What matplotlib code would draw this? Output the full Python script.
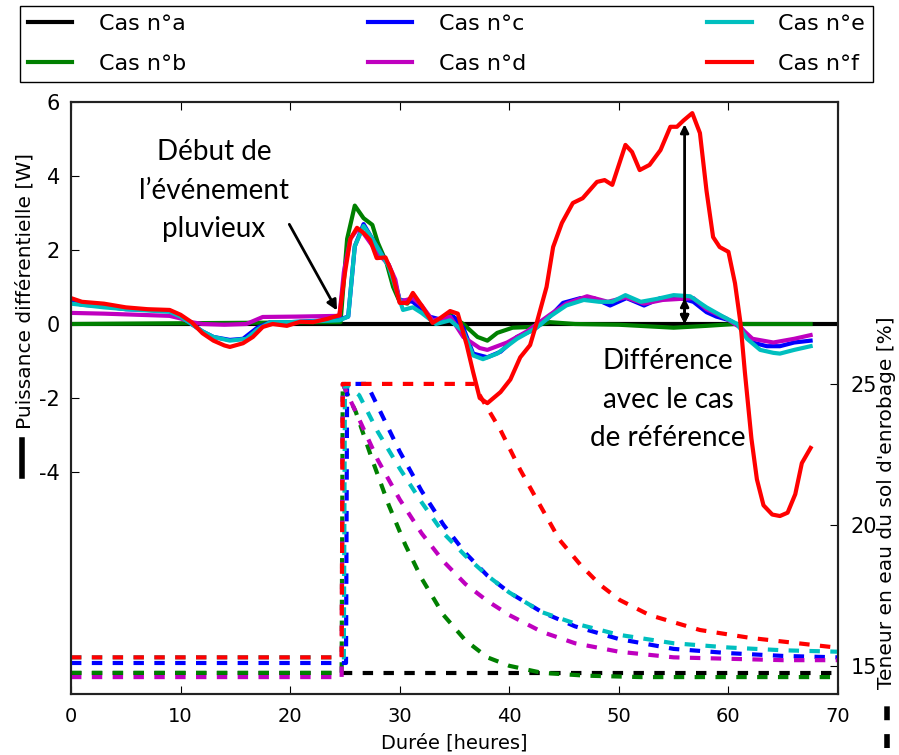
import matplotlib.pyplot as plt
from matplotlib.lines import Line2D

# --- left axis: differential power [W] (solid lines) ---
a_x = [0, 70]
a_y = [0, 0]

b_x = [0, 24.6, 25.2, 25.9, 26.7, 27.5, 28.0, 28.8, 29.4, 30.0, 30.7, 31.2, 32.0, 33.0, 33.7, 34.6,
       35.8, 37.1, 38.0, 38.9, 40.3, 41.9, 43.7, 46, 50, 55, 58, 60.6, 67.5]
b_y = [0, 0.05, 2.3, 3.2, 2.86, 2.68, 2.2, 1.65, 1.0, 0.6, 0.55, 0.8, 0.45, 0.05, 0.1, 0.25,
       0.0, -0.35, -0.45, -0.24, -0.1, -0.08, 0.05, 0.0, -0.02, -0.1, -0.05, 0.0, 0.0]

c_x = [0, 1, 3, 5, 7, 9, 10, 11, 12, 13, 14.5, 15.7, 17, 18.2, 20, 22, 24.5, 25.3, 25.9, 26.7,
       27.3, 28.2, 29.0, 29.6, 30.0, 31.2, 32.7, 34.0, 34.9, 35.8, 36.7, 38.0, 39.2, 40.7, 42.2,
       43.7, 44.9, 46.5, 47.7, 49.2, 50.7, 52.3, 53.8, 55.6, 56.8, 58.0, 58.9, 60.1, 61.1, 62.2,
       63.5, 64.7, 66, 67.5]
c_y = [0.6, 0.52, 0.48, 0.4, 0.38, 0.35, 0.2, 0.0, -0.2, -0.35, -0.43, -0.4, -0.1, 0.05, 0.05,
       0.08, 0.12, 0.2, 2.1, 2.7, 2.4, 1.95, 1.6, 1.1, 0.65, 0.6, 0.2, 0.1, 0.2, -0.1, -0.8, -0.9,
       -0.75, -0.35, -0.16, 0.2, 0.57, 0.7, 0.7, 0.5, 0.7, 0.5, 0.7, 0.7, 0.6, 0.32, 0.2, 0.1,
       -0.08, -0.5, -0.6, -0.6, -0.5, -0.45]

d_x = [0, 3, 6, 9, 10, 11, 12, 14, 16, 17.5, 20.5, 24.5, 24.9, 25.5, 26.1, 26.7, 27.3, 28.2,
       29.0, 29.6, 30.0, 31.2, 32.0, 33.0, 34.6, 35.8, 37.3, 38.0, 39.8, 41.6, 43.7, 45.2, 47.1,
       49, 50.6, 52.3, 54, 56.8, 58.0, 59.8, 61.1, 62.2, 64.1, 66, 67.5]
d_y = [0.3, 0.28, 0.25, 0.22, 0.15, 0.05, 0.0, -0.02, 0.0, 0.19, 0.2, 0.22, 1.4, 2.3, 2.55,
       2.45, 2.2, 1.85, 1.6, 1.2, 0.6, 0.7, 0.5, 0.1, 0.2, -0.35, -0.65, -0.7, -0.5, -0.2, 0.25,
       0.55, 0.75, 0.6, 0.72, 0.55, 0.65, 0.7, 0.4, 0.15, -0.1, -0.4, -0.5, -0.4, -0.3]

e_x = [0, 3, 5, 9, 10, 11, 12, 13, 14.5, 16, 17, 18.2, 20, 24.5, 25.3, 25.9, 26.7, 27.3, 28.2,
       29.0, 29.6, 30.3, 31.2, 32.0, 33.3, 34.6, 35.8, 36.7, 37.6, 38.9, 40.7, 42.5, 43.7, 45.2,
       46.8, 48.2, 49.4, 50.6, 52.0, 53.5, 55.0, 56.5, 58.0, 59.5, 60.8, 61.7, 62.9, 64.1, 64.7,
       66, 67.5]
e_y = [0.55, 0.45, 0.4, 0.33, 0.2, 0.0, -0.2, -0.35, -0.45, -0.4, -0.15, 0.05, 0.05, 0.1, 0.2,
       2.1, 2.65, 2.4, 1.95, 1.55, 1.0, 0.38, 0.45, 0.3, 0.0, 0.1, -0.2, -0.85, -0.95, -0.8, -0.4,
       -0.1, 0.2, 0.5, 0.65, 0.6, 0.6, 0.78, 0.6, 0.68, 0.78, 0.75, 0.45, 0.2, 0.0, -0.4, -0.7,
       -0.78, -0.8, -0.7, -0.6]

f_x = [0, 1, 3, 5, 7, 9, 10, 11, 12, 13, 14, 14.5, 15.7, 16.6, 17.5, 18.4, 19.7, 20.9, 22.1,
       23.4, 24.5, 25.0, 25.5, 26.1, 26.7, 27.3, 27.9, 28.7, 29.3, 30.0, 30.7, 31.2, 32.0, 33.0,
       33.7, 34.6, 35.3, 36.1, 36.7, 37.3, 38.0, 39.2, 40.1, 41.0, 41.9, 42.5, 43.4, 44.0, 44.8,
       45.8, 46.7, 48.0, 48.7, 49.4, 50.6, 51.2, 51.9, 52.8, 53.8, 54.7, 55.3, 55.9, 56.7, 57.4,
       58.0, 58.6, 59.2, 60.0, 60.6, 61.1, 61.5, 62.1, 62.6, 63.2, 64.0, 64.7, 65.4, 66.1, 66.7,
       67.5]
f_y = [0.7, 0.6, 0.55, 0.45, 0.4, 0.38, 0.25, 0.05, -0.25, -0.45, -0.58, -0.62, -0.52, -0.35,
       -0.08, 0.0, -0.05, 0.06, 0.05, 0.14, 0.24, 1.38, 2.3, 2.6, 2.46, 2.27, 1.78, 1.8, 1.38,
       0.57, 0.57, 0.84, 0.5, 0.03, 0.16, 0.35, 0.28, -0.55, -1.3, -2.0, -2.14, -1.84, -1.5,
       -0.9, -0.57, 0.03, 1.0, 2.08, 2.73, 3.27, 3.4, 3.84, 3.89, 3.76, 4.84, 4.65, 4.16, 4.3,
       4.7, 5.33, 5.33, 5.5, 5.7, 5.16, 3.6, 2.35, 2.08, 1.95, 1.1, 0.03, -1.3, -3.1, -4.2, -4.9,
       -5.15, -5.19, -5.1, -4.6, -3.76, -3.35]

# --- right axis: soil water content [%] (dashed lines) ---
wa_x = [0, 70]
wa_y = [14.75, 14.75]
wb_x = [0, 24.7, 24.8, 26, 27.5, 29, 30.5, 32, 34, 36, 38, 40, 43, 47, 52, 60, 70]
wb_y = [14.75, 14.75, 25, 24.0, 22.3, 20.7, 19.3, 18.1, 16.8, 15.9, 15.3, 15.0, 14.75, 14.65,
        14.6, 14.6, 14.6]
wc_x = [0, 25.1, 25.2, 27.0, 28.5, 30, 32, 34, 36, 38, 40, 43, 46, 50, 55, 60, 65, 70]
wc_y = [15.1, 15.1, 25, 25, 23.8, 22.6, 21.2, 20.0, 19.0, 18.2, 17.6, 16.9, 16.4, 15.95, 15.6,
        15.45, 15.35, 15.3]
wd_x = [0, 24.7, 24.8, 26, 28, 30, 32, 34, 36, 38, 40, 43, 46, 50, 55, 60, 65, 70]
wd_y = [14.6, 14.6, 25, 24.0, 22.3, 20.9, 19.7, 18.7, 17.9, 17.3, 16.8, 16.2, 15.8, 15.5,
        15.3, 15.25, 15.2, 15.2]
we_x = [0, 24.9, 25.0, 26.3, 28, 30, 32, 34, 36, 38, 40, 43, 46, 50, 55, 60, 65, 70]
we_y = [15.3, 15.3, 25, 24.6, 23.3, 22.0, 20.8, 19.7, 18.9, 18.2, 17.6, 16.9, 16.5, 16.1,
        15.8, 15.65, 15.55, 15.5]
wf_x = [0, 24.7, 24.8, 36.8, 37.3, 39.2, 41.0, 42.8, 44.6, 46.5, 48.3, 50.1, 52.8, 57.4, 62, 70]
wf_y = [15.3, 15.3, 25, 25, 24.6, 23.36, 21.95, 20.7, 19.46, 18.58, 17.87, 17.33, 16.8, 16.27,
        15.99, 15.64]

labels = ['Cas n°a', 'Cas n°b', 'Cas n°c', 'Cas n°d', 'Cas n°e', 'Cas n°f']
colors = ['k', 'g', 'b', 'm', 'c', 'r']

plt.rcParams['font.size'] = 14
plt.rcParams['axes.unicode_minus'] = False

fig = plt.figure(figsize=(8.99, 7.55), dpi=100)
ax = fig.add_axes([71 / 899, 1 - 694 / 755, 767 / 899, 592 / 755])
ax2 = ax.twinx()

solid = [(a_x, a_y), (b_x, b_y), (c_x, c_y), (d_x, d_y), (e_x, e_y), (f_x, f_y)]
dashed = [(wa_x, wa_y), (wb_x, wb_y), (wc_x, wc_y), (wd_x, wd_y), (we_x, we_y), (wf_x, wf_y)]

handles = []
for (x, y), col, lab in zip(solid, colors, labels):
    h, = ax.plot(x, y, color=col, lw=3, label=lab)
    handles.append(h)
for (x, y), col in zip(dashed, colors):
    ax2.plot(x, y, color=col, lw=3, linestyle=(0, (2.5, 2.5)))

ax.set_xlim(0, 70)
ax.set_ylim(-10, 6)
ax.set_yticks([-4, -2, 0, 2, 4, 6])
ax.set_xticks(range(0, 71, 10))
ax2.set_ylim(14, 35)
ax2.set_yticks([15, 20, 25])
ax.tick_params(direction='in', top=True, length=6)
ax.tick_params(axis='x', labelsize=14, pad=9)
ax.tick_params(axis='y', labelsize=15, pad=8)
ax2.tick_params(direction='in', length=6, labelsize=15, pad=9)
for a in (ax, ax2):
    for s in a.spines.values():
        s.set_linewidth(1.5)
        s.set_color('#222222')

ax.set_xlabel('Durée [heures]', fontsize=14, labelpad=6)

# rotated axis titles with a small line sample in front
fig.text(25 / 899, 1 - 291 / 755, 'Puissance différentielle [W]', rotation=90,
         ha='center', va='center', fontsize=14.5)
fig.add_artist(Line2D([22 / 899, 22 / 899], [1 - 476 / 755, 1 - 440 / 755],
                      color='k', lw=4))
fig.text(887 / 899, 1 - 503 / 755, "Teneur en eau du sol d'enrobage [%]", rotation=90,
         ha='center', va='center', fontsize=14.5)
fig.add_artist(Line2D([887 / 899, 887 / 899], [1 - 748 / 755, 1 - 703 / 755],
                      color='k', lw=4, linestyle=(0, (2.5, 2.5))))

# annotations
ax.text(13.05, 3.6, 'Début de\nl’événement\npluvieux', family='Lato', fontsize=20,
        ha='center', va='center', linespacing=1.6)
ax.annotate('', xy=(24.4, 0.3), xytext=(19.8, 2.76),
            arrowprops=dict(arrowstyle='-|>', color='k', lw=2, mutation_scale=15))
ax.annotate('', xy=(56, 5.4), xytext=(56, 0.0),
            arrowprops=dict(arrowstyle='<|-|>', color='k', lw=2, mutation_scale=12,
                            shrinkA=0, shrinkB=0))
ax.annotate('', xy=(56, 0.7), xytext=(56, 0.0),
            arrowprops=dict(arrowstyle='<|-|>', color='k', lw=2, mutation_scale=12,
                            shrinkA=0, shrinkB=0))
ax.text(54.5, -2.05, 'Différence\navec le cas\nde référence', family='Lato', fontsize=20,
        ha='center', va='center', linespacing=1.6)

fig.legend(handles, labels, loc='lower left', ncol=3, mode='expand',
           bbox_to_anchor=(20 / 899, 1 - 82 / 755, 853 / 899, 77 / 755),
           fancybox=False, edgecolor='k', framealpha=1, fontsize=16,
           handlelength=2.0, handletextpad=1.2, labelspacing=0.9, borderpad=0.35,
           borderaxespad=0)

fig.savefig('out.png', dpi=100)
